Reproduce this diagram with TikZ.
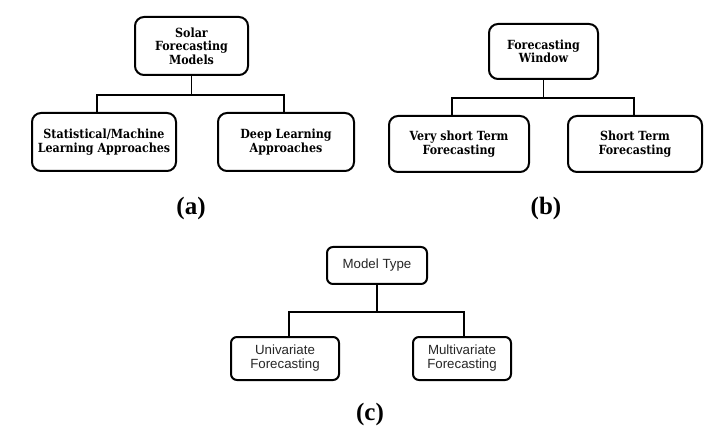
\documentclass[tikz,border=0pt]{standalone}
\usepackage{fontspec}
\setmainfont{Liberation Serif}
\newfontfamily\dvserif[FakeStretch=0.88]{DejaVu Serif}
\newfontfamily\lsans{Liberation Sans}
\begin{document}
\begin{tikzpicture}[x=1pt,y=-1pt,
  serifbox/.style={draw,line width=2pt,rounded corners=9pt,align=center,inner sep=0pt,
    font=\dvserif\bfseries\fontsize{12.6}{13.5}\selectfont},
  sansbox/.style={draw,line width=2pt,rounded corners=6pt,align=center,inner sep=0pt,
    text=black!85,font=\lsans\fontsize{13.3}{14}\selectfont},
  conab/.style={line width=1.5pt},
  conc/.style={line width=2pt},
  caption/.style={font=\bfseries\fontsize{25}{28}\selectfont,inner sep=0pt}]
\useasboundingbox (0,0) rectangle (722,435);
% (a)
\node[serifbox,minimum width=113pt,minimum height=58pt] (ta) at (191.5,46) {Solar\\Forecasting\\Models};
\node[serifbox,minimum width=144pt,minimum height=58pt] (la) at (104,142) {Statistical/Machine\\Learning Approaches};
\node[serifbox,minimum width=136pt,minimum height=58pt] (ra) at (286,142) {Deep Learning\\Approaches};
\coordinate (aL) at (97,95);
\coordinate (aR) at (284,95);
\draw[conab] (ta.south) -- (ta.south |- aL);
\draw[conab] (aL |- la.north) -- (aL) -- (aR) -- (aR |- ra.north);
\node[caption] (capa) at (191,208) {(a)};
% (b)
\node[serifbox,minimum width=109pt,minimum height=55pt] (tb) at (543.5,51.5) {Forecasting\\Window};
\node[serifbox,minimum width=140pt,minimum height=56pt] (lb) at (459,144) {Very short Term\\Forecasting};
\node[serifbox,minimum width=134pt,minimum height=56pt] (rb) at (635,144) {Short Term\\Forecasting};
\coordinate (bL) at (452,98);
\coordinate (bR) at (634,98);
\draw[conab] (tb.south) -- (tb.south |- bL);
\draw[conab] (bL |- lb.north) -- (bL) -- (bR) -- (bR |- rb.north);
\node[caption] (capb) at (546,208) {(b)};
% (c)
\node[sansbox,minimum width=100pt,minimum height=37pt] (tc) at (377,265.5) {Model Type};
\node[sansbox,minimum width=108pt,minimum height=43pt] (lc) at (285,358.5) {Univariate\\Forecasting};
\node[sansbox,minimum width=98pt,minimum height=43pt] (rc) at (462,358.5) {Multivariate\\Forecasting};
\coordinate (cL) at (289,312);
\coordinate (cR) at (464,312);
\draw[conc] (tc.south) -- (tc.south |- cL);
\draw[conc] (cL |- lc.north) -- (cL) -- (cR) -- (cR |- rc.north);
\node[caption] (capc) at (370,414) {(c)};
\end{tikzpicture}
\end{document}
